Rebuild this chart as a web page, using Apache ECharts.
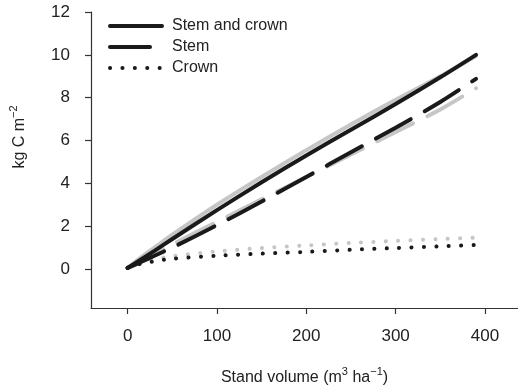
<!DOCTYPE html>
<html>
<head>
<meta charset="utf-8">
<script src="https://cdn.jsdelivr.net/npm/echarts@6/dist/echarts.min.js"></script>
<style>
  html, body { margin: 0; padding: 0; background: #fff; }
  #chart { width: 518px; height: 387px; }
</style>
</head>
<body>
<div id="chart"></div>
<script>
// stand volume (m3/ha)
var volume = [0, 15, 30, 50, 100, 150, 200, 250, 300, 350, 390]
// black = model A, grey = model B
var stemCrownA = [0.05, 0.45, 0.85, 1.4, 2.75, 4.05, 5.3, 6.5, 7.7, 8.95, 10.0]
var stemCrownB = [0.05, 0.55, 1.0, 1.6, 3.0, 4.3, 5.55, 6.75, 7.9, 9.0, 9.95]
var stemA = [0.05, 0.33, 0.62, 1.0, 2.05, 3.15, 4.3, 5.45, 6.6, 7.8, 8.88]
var stemB = [0.05, 0.4, 0.72, 1.15, 2.2, 3.25, 4.3, 5.35, 6.4, 7.45, 8.44]
var crownA = [0.05, 0.25, 0.36, 0.48, 0.62, 0.72, 0.8, 0.9, 0.98, 1.06, 1.12]
var crownB = [0.05, 0.3, 0.45, 0.6, 0.82, 0.98, 1.1, 1.22, 1.31, 1.4, 1.46]
var xTicks = [0, 100, 200, 300, 400]
var yTicks = [0, 2, 4, 6, 8, 10, 12]

var font = 'Liberation Sans'
var black = '#1a1a1a'
var grey = '#c6c6c6'

function pairs(ys) {
  return volume.map(function (v, i) { return [v, ys[i]] })
}

function line(name, ys, color, type, z) {
  return {
    name: name,
    type: 'line',
    data: pairs(ys),
    smooth: 0.3,
    symbol: 'none',
    z: z,
    itemStyle: { color: color },
    lineStyle: { color: color, width: 4, type: type, cap: 'round' }
  }
}

var chart = echarts.init(document.getElementById('chart'))
chart.setOption({
  animation: false,
  grid: { left: 91, right: 0, top: 12, bottom: 79, containLabel: false, outerBoundsMode: 'none' },
  legend: {
    orient: 'vertical',
    left: 103,
    top: 13,
    itemWidth: 52,
    itemHeight: 14,
    itemGap: 5,
    data: ['Stem and crown', 'Stem', 'Crown'],
    itemStyle: { opacity: 0 },
    lineStyle: { width: 4, cap: 'round' },
    textStyle: { fontFamily: font, fontSize: 16, color: '#222', padding: [0, 0, 0, 5] }
  },
  xAxis: {
    type: 'value',
    min: -41,
    max: 437,
    splitLine: { show: false },
    axisLine: { onZero: false, lineStyle: { color: '#333', width: 1.2 } },
    axisTick: { length: 6, lineStyle: { color: '#333', width: 1.2 }, customValues: xTicks },
    axisLabel: { margin: 20, fontFamily: font, fontSize: 17, color: '#222', customValues: xTicks },
    name: 'Stand volume (m{sup|3} ha{sup|\u22121})',
    nameLocation: 'middle',
    nameGap: 58,
    nameTextStyle: {
      fontFamily: font, fontSize: 16, color: '#222', lineHeight: 24,
      rich: { sup: { fontFamily: font, fontSize: 11, lineHeight: 12, verticalAlign: 'top', color: '#222' } }
    }
  },
  yAxis: {
    type: 'value',
    min: -1.82,
    max: 12,
    splitLine: { show: false },
    axisLine: { onZero: false, lineStyle: { color: '#333', width: 1.2 } },
    axisTick: { length: 6, lineStyle: { color: '#333', width: 1.2 }, customValues: yTicks },
    axisLabel: { margin: 21, fontFamily: font, fontSize: 17, color: '#222', customValues: yTicks }
  },
  graphic: [{
    type: 'text',
    x: 20,
    y: 137,
    rotation: Math.PI / 2,
    style: {
      text: 'kg C m{sup|\u22122}',
      fontFamily: font, fontSize: 16, fill: '#222', lineHeight: 24,
      align: 'center', verticalAlign: 'middle',
      rich: { sup: { fontFamily: font, fontSize: 11, lineHeight: 12, verticalAlign: 'top', fill: '#222' } }
    }
  }],
  series: [
    line('Stem and crown B', stemCrownB, grey, 'solid', 1),
    line('Stem B', stemB, grey, [40, 16], 1),
    line('Crown B', crownB, grey, [0.1, 12.3], 1),
    line('Stem and crown', stemCrownA, black, 'solid', 2),
    line('Stem', stemA, black, [40, 16], 2),
    line('Crown', crownA, black, [0.1, 12.3], 2)
  ]
})
</script>
</body>
</html>
